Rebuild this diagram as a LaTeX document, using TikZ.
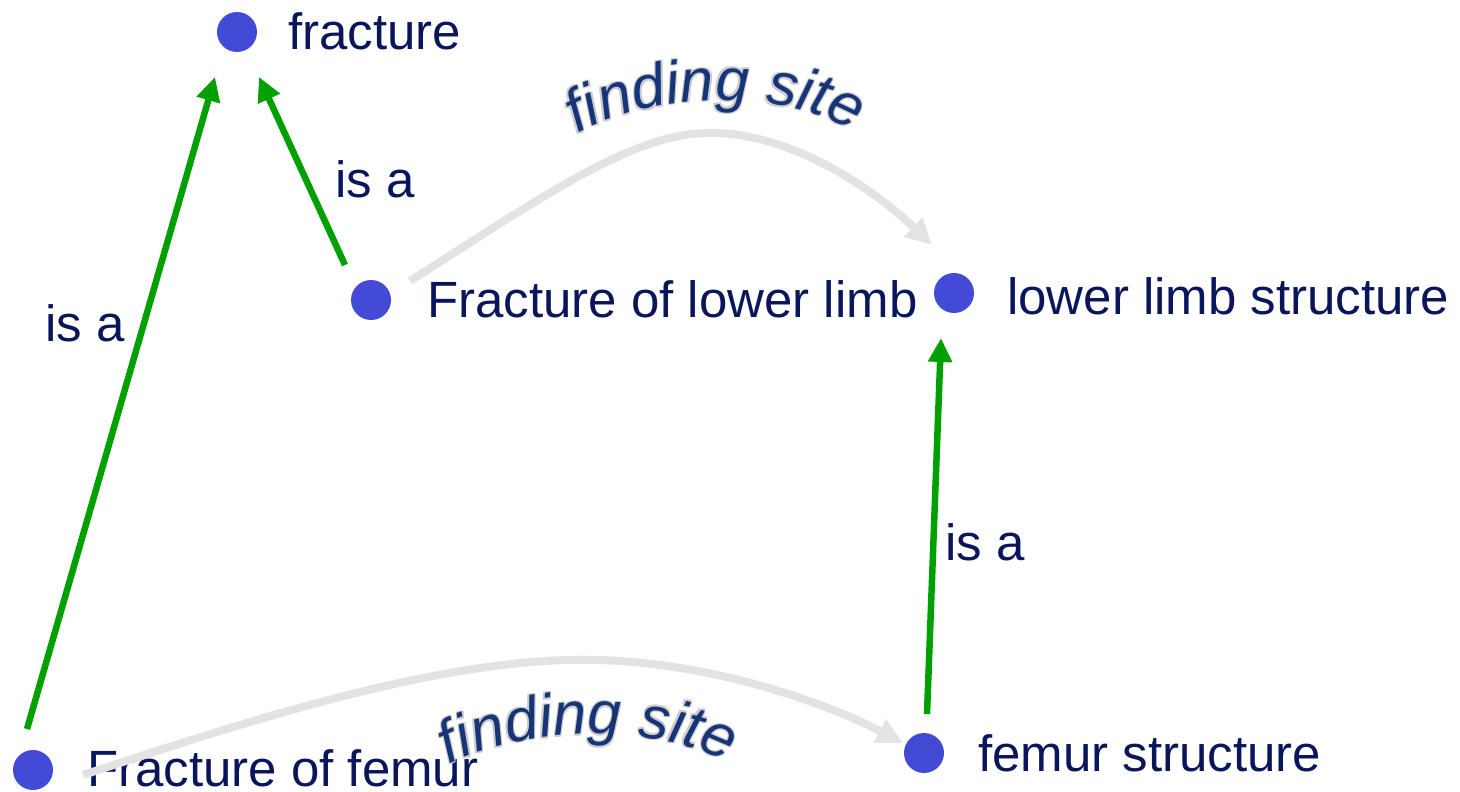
\documentclass[tikz,border=0pt]{standalone}
\usepackage{fontspec}
\setmainfont{Liberation Sans}
\usetikzlibrary{arrows.meta,calc,decorations.text}
\definecolor{navy}{RGB}{10,22,92}
\definecolor{fscol}{RGB}{22,52,120}
\definecolor{dotblue}{RGB}{67,74,214}
\definecolor{isagreen}{RGB}{0,160,0}
\definecolor{arrowgray}{RGB}{227,227,227}
\definecolor{halo}{RGB}{205,205,205}
\newcommand\lblfont{\fontsize{51}{60}\selectfont}
\newcommand\fsfont{\fontsize{60}{70}\selectfont\itshape}
\tikzset{
  dot/.style={circle, fill=dotblue, minimum size=40pt, inner sep=0pt, draw=none},
  lbl/.style={text=navy, font=\lblfont, inner sep=0pt, anchor=base west},
  isa/.style={draw=isagreen, line width=6.5pt, -{Triangle[length=24pt,width=23pt]}},
  fsite/.style={draw=arrowgray, line width=8pt, -{Triangle[length=26pt,width=25pt]}},
  fstext/.style={decorate, decoration={text along path, text align=center,
     text color=#1, text={|\fsfont|finding site}}},
}
\begin{document}
\begin{tikzpicture}[x=1pt,y=-1pt]
\useasboundingbox (0,0) rectangle (1460,792);
% dots
\node[dot] (fr)  at (237,32) {};
\node[dot] (flw) at (371,300) {};
\node[dot] (lls) at (954,293) {};
\node[dot] (ff)  at (33,770) {};
\node[dot] (fs)  at (924,753) {};
% labels
\node[lbl] (frT)  at (288,50)  {fracture};
\node[lbl] (flwT) at (427,317) {Fracture of lower limb};
\node[lbl] (llsT) at (1007,314) {lower limb structure};
\node[lbl] (ffT)  at (87,786)  {Fracture of femur};
\node[lbl] (fsT)  at (978,771) {femur structure};
\node[lbl] (isa1) at (45,341)  {is a};
\node[lbl] (isa2) at (335,197) {is a};
\node[lbl] (isa3) at (945,560) {is a};
% is-a arrows
\draw[isa] ($(ff)+(-6,-41)$) -- ($(fr)+(-22,45)$);
\draw[isa] ($(flw)+(-26,-35)$) -- ($(fr)+(22,45)$);
\draw[isa] ($(fs)+(3,-39)$) -- ($(lls)+(-13,45)$);
% finding site arrows
\draw[fsite] ($(flw)+(39,-19)$) .. controls (560,185) and (640,130) .. (717,133)
   .. controls (800,136) and (880,195) .. ($(lls)+(-22,-48)$);
\draw[fsite] ($(ff)+(50,5)$) .. controls (250,720) and (450,655) .. (600,660)
   .. controls (720,664) and (830,705) .. ($(fs)+(-21,-10)$);
% finding site labels (light halo + text)
\foreach \dx/\dy in {-1.3/-1.3,1.3/-1.3,-1.3/1.3,1.3/1.3}{
  \path[shift={(\dx,\dy)}, fstext=halo]
     (560,145) .. controls (635,90) and (795,82) .. (870,143);
  \path[shift={(\dx,\dy)}, fstext=halo]
     (435,772) .. controls (510,727) and (660,717) .. (740,770);
}
\path[fstext=fscol] (560,145) .. controls (635,90) and (795,82) .. (870,143);
\path[fstext=fscol] (435,772) .. controls (510,727) and (660,717) .. (740,770);
\end{tikzpicture}
\end{document}
